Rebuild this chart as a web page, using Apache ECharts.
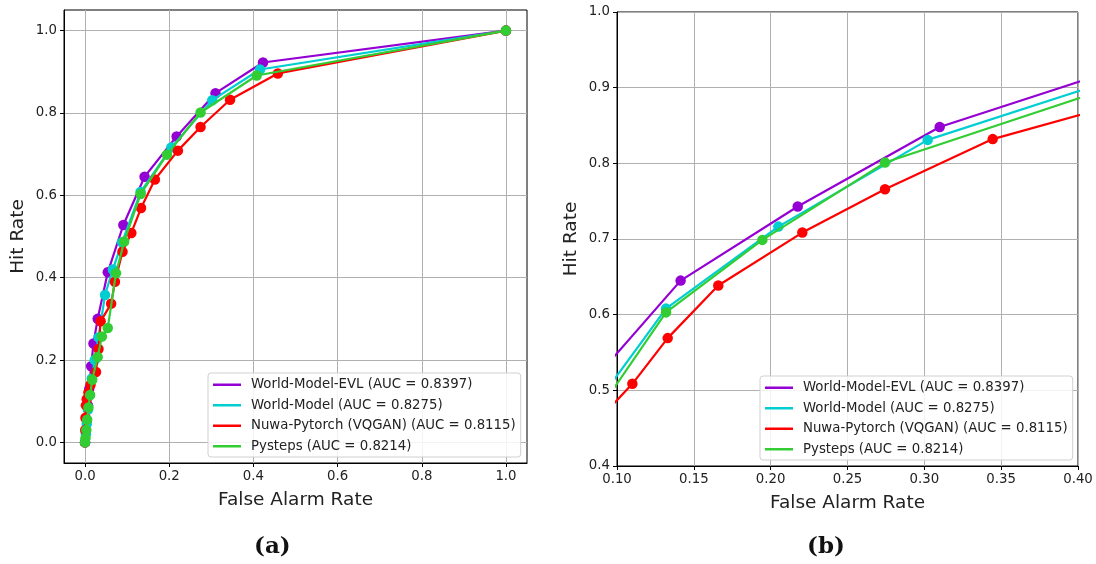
<!DOCTYPE html>
<html>
<head>
<meta charset="utf-8">
<script src="https://cdn.jsdelivr.net/npm/echarts@6/dist/echarts.min.js"></script>
<style>
  html, body { margin: 0; padding: 0; background: #fff; }
  #chart { width: 1096px; height: 564px; }
</style>
</head>
<body>
<div id="chart"></div>
<script>
// ---- data (False Alarm Rate / Hit Rate pairs) ----
const seriesNames = [
  'World-Model-EVL (AUC = 0.8397)',
  'World-Model (AUC = 0.8275)',
  'Nuwa-Pytorch (VQGAN) (AUC = 0.8115)',
  'Pysteps (AUC = 0.8214)'
];
const evlFar = [0, 0.002, 0.004, 0.007, 0.010, 0.0145, 0.020, 0.030, 0.054, 0.091, 0.1414, 0.2176, 0.310, 0.4228, 1];
const evlHit = [0, 0.025, 0.055, 0.09, 0.13, 0.185, 0.240, 0.30, 0.413, 0.528, 0.645, 0.743, 0.848, 0.9225, 1];
const wmFar = [0, 0.002, 0.004, 0.007, 0.011, 0.016, 0.023, 0.032, 0.0475, 0.066, 0.088, 0.1319, 0.205, 0.3022, 0.4157, 1];
const wmHit = [0, 0.02, 0.045, 0.08, 0.115, 0.155, 0.20, 0.255, 0.358, 0.42, 0.486, 0.608, 0.7164, 0.831, 0.9056, 1];
const nuwaFar = [0, 0.0005, 0.001, 0.002, 0.004, 0.008, 0.013, 0.026, 0.032, 0.037, 0.062, 0.071, 0.089, 0.11, 0.133, 0.1659, 0.2206, 0.2744, 0.3445, 0.458, 1];
const nuwaHit = [0, 0.03, 0.06, 0.09, 0.105, 0.121, 0.14, 0.171, 0.227, 0.294, 0.337, 0.39, 0.463, 0.5086, 0.569, 0.6385, 0.7085, 0.7658, 0.832, 0.896, 1];
const pyFar = [0, 0.001, 0.003, 0.005, 0.008, 0.012, 0.017, 0.030, 0.040, 0.054, 0.0736, 0.093, 0.1319, 0.1946, 0.2744, 0.4078, 1];
const pyHit = [0, 0.01, 0.03, 0.055, 0.085, 0.115, 0.152, 0.2075, 0.257, 0.278, 0.411, 0.488, 0.603, 0.6988, 0.801, 0.891, 1];

const leftTicks = [0, 0.2, 0.4, 0.6, 0.8, 1.0];
const rightXTicks = [0.10, 0.15, 0.20, 0.25, 0.30, 0.35, 0.40];
const rightYTicks = [0.4, 0.5, 0.6, 0.7, 0.8, 0.9, 1.0];
const captions = ['(a)', '(b)'];

// ---- styling ----
const colors = ['#9400d3', '#00ced1', '#ff0000', '#32cd32'];
const FONT = 'DejaVu Sans';
const pairs = [[evlFar, evlHit], [wmFar, wmHit], [nuwaFar, nuwaHit], [pyFar, pyHit]];

function zip(a, b) { return a.map((v, i) => [v, b[i]]); }

const tickStyle = { show: true, inside: false, length: 4, lineStyle: { color: '#000', width: 1 } };
const splitStyle = { show: true, lineStyle: { color: '#b0b0b0', width: 1 } };
const labelBase = { color: '#222', fontFamily: FONT, fontSize: 13.3, margin: 7 };
const nameStyle = { color: '#222', fontFamily: FONT, fontSize: 18.5 };
const lineBase = { show: true, onZero: false, lineStyle: { color: '#000' } };

const series = [];
[0, 1].forEach(g => {
  pairs.forEach((p, i) => {
    series.push({
      name: seriesNames[i],
      type: 'line',
      xAxisIndex: g,
      yAxisIndex: g,
      data: zip(p[0], p[1]),
      color: colors[i],
      lineStyle: { width: 2.2, color: colors[i] },
      itemStyle: { color: colors[i] },
      symbol: 'circle',
      symbolSize: 10.5,
      showAllSymbol: true,
      clip: true,
      animation: false,
      z: 2 + i
    });
  });
});

const legendBase = {
  orient: 'vertical',
  icon: 'rect',
  itemWidth: 28,
  itemHeight: 2.5,
  itemGap: 5,
  backgroundColor: 'rgba(255,255,255,0.85)',
  borderColor: '#d0d0d0',
  borderWidth: 1,
  borderRadius: 3,
  padding: [4, 5, 3, 5],
  selectedMode: false,
  textStyle: { fontFamily: FONT, fontSize: 13.3, color: '#222', padding: [0, 0, 0, 5], lineHeight: 15.5 },
  data: seriesNames
};

const option = {
  backgroundColor: '#fff',
  animation: false,
  grid: [
    { left: 64, top: 10, width: 463, height: 453, show: true, borderColor: '#000', borderWidth: 1, backgroundColor: 'transparent' },
    { left: 617, top: 12, width: 461, height: 454, show: true, borderColor: '#000', borderWidth: 1, backgroundColor: 'transparent' }
  ],
  xAxis: [
    {
      type: 'value', gridIndex: 0, min: -0.05, max: 1.05,
      name: 'False Alarm Rate', nameLocation: 'middle', nameGap: 28, nameTextStyle: nameStyle,
      axisLine: lineBase,
      axisTick: Object.assign({ customValues: leftTicks }, tickStyle),
      axisLabel: Object.assign({ customValues: leftTicks, formatter: v => v.toFixed(1) }, labelBase),
      splitLine: splitStyle
    },
    {
      type: 'value', gridIndex: 1, min: 0.10, max: 0.40, interval: 0.05,
      name: 'False Alarm Rate', nameLocation: 'middle', nameGap: 28, nameTextStyle: nameStyle,
      axisLine: lineBase,
      axisTick: Object.assign({ customValues: rightXTicks }, tickStyle),
      axisLabel: Object.assign({ customValues: rightXTicks, formatter: v => v.toFixed(2) }, labelBase),
      splitLine: splitStyle
    }
  ],
  yAxis: [
    {
      type: 'value', gridIndex: 0, min: -0.05, max: 1.05,
      name: 'Hit Rate', nameLocation: 'middle', nameGap: 36, nameTextStyle: nameStyle,
      axisLine: lineBase,
      axisTick: Object.assign({ customValues: leftTicks }, tickStyle),
      axisLabel: Object.assign({ customValues: leftTicks, formatter: v => v.toFixed(1) }, labelBase),
      splitLine: splitStyle
    },
    {
      type: 'value', gridIndex: 1, min: 0.4, max: 1.0, interval: 0.1,
      name: 'Hit Rate', nameLocation: 'middle', nameGap: 36, nameTextStyle: nameStyle,
      axisLine: lineBase,
      axisTick: Object.assign({ customValues: rightYTicks }, tickStyle),
      axisLabel: Object.assign({ customValues: rightYTicks, formatter: v => v.toFixed(1) }, labelBase),
      splitLine: splitStyle
    }
  ],
  legend: [
    Object.assign({ left: 208, top: 373 }, legendBase),
    Object.assign({ left: 760, top: 376 }, legendBase)
  ],
  graphic: [
    { type: 'text', left: 274 - 20, top: 536, style: { text: captions[0], font: 'bold 23px "DejaVu Serif"', fill: '#111' } },
    { type: 'text', left: 827 - 20, top: 536, style: { text: captions[1], font: 'bold 23px "DejaVu Serif"', fill: '#111' } }
  ],
  series: series
};

const chart = echarts.init(document.getElementById('chart'), null, { renderer: 'canvas' });
chart.setOption(option);
</script>
</body>
</html>
